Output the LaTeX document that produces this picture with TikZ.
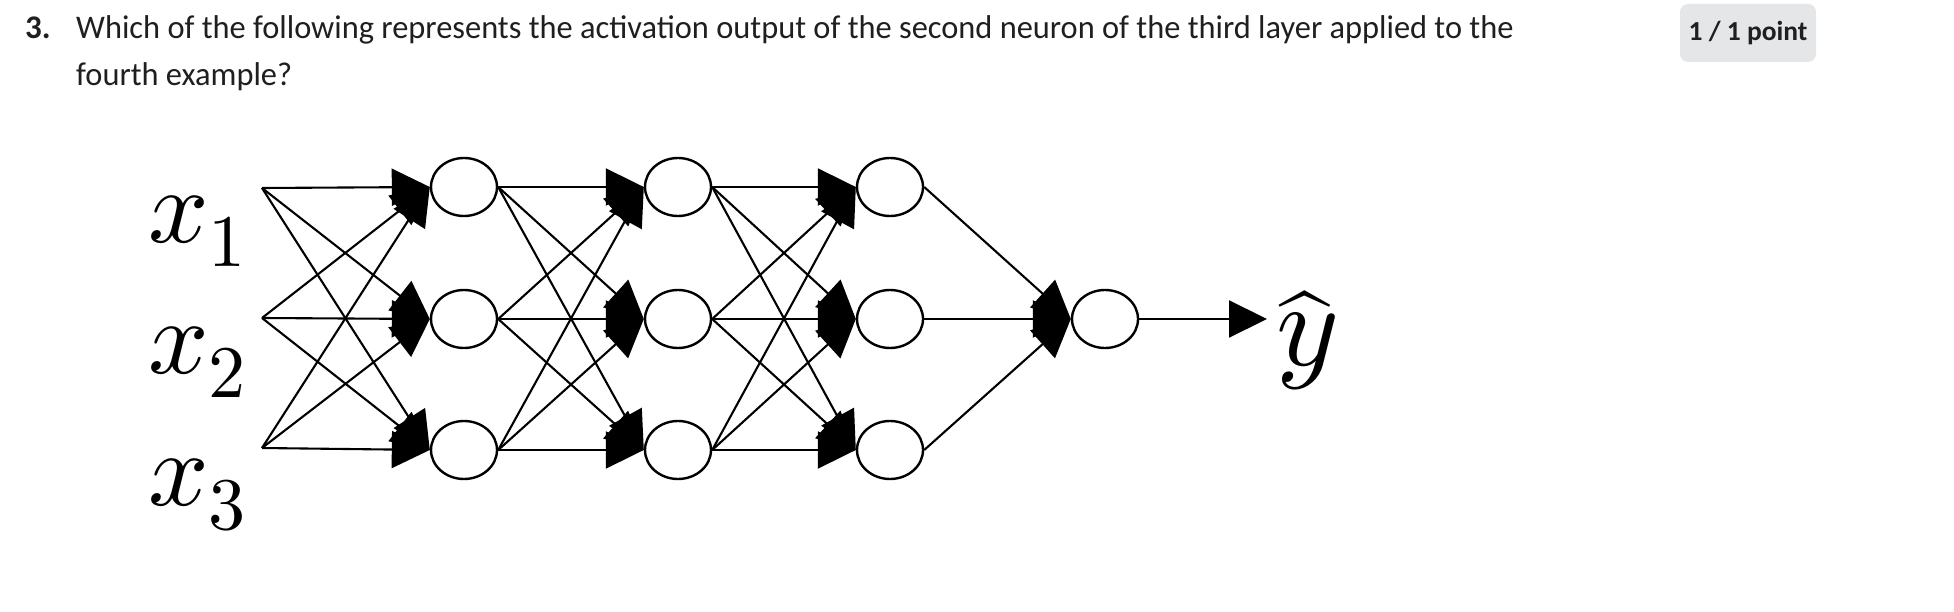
\documentclass[tikz,border=0pt]{standalone}
\usepackage[no-math]{fontspec}
\setmainfont{Carlito}
\DeclareFontShape{OML}{cmm}{m}{it}{<->cmmi10}{}
\DeclareFontShape{OT1}{cmr}{m}{n}{<->cmr10}{}
\DeclareFontShape{OMS}{cmsy}{m}{n}{<->cmsy10}{}
\DeclareFontShape{OMX}{cmex}{m}{n}{<->cmex10}{}
\usetikzlibrary{arrows.meta,shapes.geometric}
\pgfdeclarelayer{bg}
\pgfsetlayers{bg,main}
\definecolor{txt}{RGB}{31,31,31}
\definecolor{badgegray}{RGB}{229,230,232}
\newcommand{\sublbl}[1]{\raisebox{-24pt}{$\scriptstyle #1$}}
\newcommand{\yhatlbl}{\makebox[0pt][l]{\kern5pt\raisebox{7pt}{\scalebox{0.76}{$\widehat{\phantom{y}}$}}}$y$}
\begin{document}
\begin{tikzpicture}[x=1pt,y=-1pt,
  neuron/.style={ellipse, draw=black, fill=white, line width=2.4pt,
    minimum width=66pt, minimum height=58pt, inner sep=0pt},
  link/.style={line width=2.1pt, -{Triangle[length=38pt,width=37pt]}},
  qtext/.style={anchor=base west, inner sep=0pt, text=txt,
    font=\fontsize{33}{40}\selectfont},
  mathlbl/.style={anchor=base west, inner sep=0pt,
    font=\fontsize{106}{110}\selectfont},
  badge/.style={fill=badgegray, rounded corners=8pt, minimum width=136pt,
    minimum height=58pt, inner sep=0pt, text=txt,
    font=\bfseries\fontsize{27.5}{30}\selectfont}
]
\useasboundingbox (0,0) rectangle (1954,612);

% question text
\node[qtext, font=\bfseries\fontsize{33}{40}\selectfont] (num) at (25,39) {3.};
\node[qtext] (line1) at (76,39) {\scalebox{0.982}[1]{Which of the following represents the activation output of the second neuron of the third layer applied to the}};
\node[qtext] (line2) at (76,86) {\scalebox{0.982}[1]{fourth example?}};
\node[badge] (score) at (1748,33) {1 / 1 point};

% inputs
\coordinate (in1) at (262,188);
\coordinate (in2) at (262,318);
\coordinate (in3) at (262,448);
\node[mathlbl] (x1) at (148,243) {$x\sublbl{1}$};
\node[mathlbl] (x2) at (148,373) {$x\sublbl{2}$};
\node[mathlbl] (x3) at (148,505) {$x\sublbl{3}$};

% neurons
\foreach \y [count=\k] in {187,319,450} {
  \node[neuron] (a\k) at (464,\y) {};
  \node[neuron] (b\k) at (678,\y) {};
  \node[neuron] (c\k) at (890,\y) {};
}
\node[neuron] (o) at (1105,319) {};
\coordinate (yt) at (1267,319);
\node[mathlbl, font=\fontsize{120}{124}\selectfont] (yhat) at (1276,365) {\yhatlbl};

\begin{pgfonlayer}{bg}
  \foreach \i in {1,2,3} {
    \foreach \j in {1,2,3} {
      \draw[link] (in\i) -- (a\j.west);
      \draw[link] (a\i.east) -- (b\j.west);
      \draw[link] (b\i.east) -- (c\j.west);
    }
    \draw[link] (c\i.east) -- (o.west);
  }
  \draw[link] (o.east) -- (yt);
\end{pgfonlayer}
\end{tikzpicture}
\end{document}
